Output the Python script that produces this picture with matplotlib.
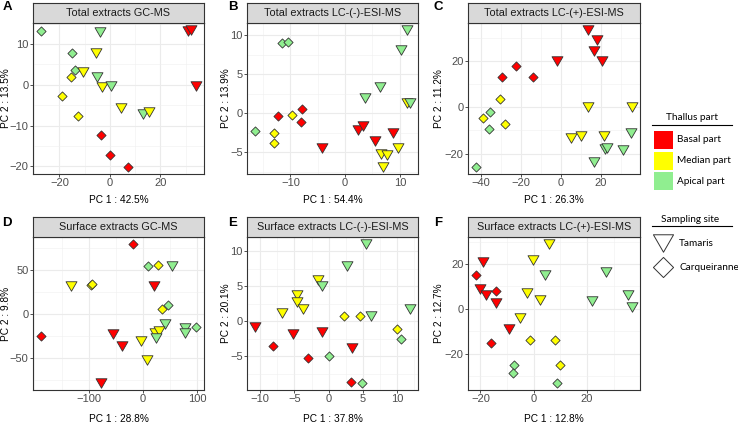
import matplotlib
matplotlib.use("Agg")
import matplotlib.pyplot as plt
from matplotlib.patches import Rectangle
from matplotlib.path import Path
from matplotlib.ticker import FixedLocator, AutoMinorLocator

plt.rcParams['font.family'] = ['Liberation Sans', 'DejaVu Sans']

W, H = 738, 426

# ---- data ----
# part: B = basal, M = median, A = apical ; site: T = Tamaris, C = Carqueiranne
a_x = [-27.4, -3.9, 30.9, 32.2, 34.2, -14.9, -5.5, -13.8, -10.5, -15.5, -5.0,
       -3.3, 0.4, -18.8, 4.3, -12.8, 13.2, 15.4, -3.6, 0.0, 7.0]
a_y = [13.1, 12.9, 13.1, 13.5, -0.2, 7.8, 7.8, 3.7, 3.1, 1.9, 2.0,
       -0.5, -0.2, -2.8, -5.8, -7.7, -7.2, -6.6, -12.2, -17.2, -20.2]
a_part = "AABBBAMAMMAMAMMMAMBBB"
a_site = "CTTTTCTCTCTTTCTCTTCCC"

b_x = [-11.5, -10.5, 11.3, 10.2, 6.4, 3.6, 11.4, 11.9, -7.8, -12.2, -9.7, -8.1,
       -16.5, -13.0, -12.9, 2.3, 3.3, -4.3, 5.5, 8.8, 9.6, 6.6, 7.7, 7.0]
b_y = [9.0, 9.1, 10.7, 8.1, 3.4, 2.0, 1.3, 1.3, 0.5, -0.3, -0.2, -1.1,
       -2.3, -2.5, -3.8, -2.2, -1.6, -4.4, -3.5, -2.5, -4.4, -5.2, -5.4, -6.9]
b_part = "AAAAAAMABBMBAMMBBBBBMMMM"
b_site = "CCTTTTTTCCCCCCCTTTTTTTTT"

c_x = [13.7, 18.3, 16.7, 20.7, -1.7, -22.5, -29.3, -13.7, -30.5, 13.7, 35.8, -35.5,
       -38.8, -28.0, -35.8, 5.0, 10.0, 21.5, 35.3, 22.0, 23.3, 31.2, 16.5, -42.5]
c_y = [33.3, 29.1, 24.3, 20.0, 19.9, 17.9, 12.8, 12.8, 3.7, 0.1, 0.1, -2.0,
       -4.5, -7.4, -9.5, -13.3, -12.3, -12.3, -10.9, -18.0, -17.6, -18.3, -23.7, -25.8]
c_part = "BBBBBBBBMMMAMMAMMMAAAAAA"
c_site = "TTTTTCCCCTTCCCCTTTTTTTTC"

d_x = [-18.3, 9.2, 27.5, 53.2, -132.7, -96.0, -94.8, 19.6, 45.9, 34.9, 39.8, 21.4,
       29.4, 23.2, 76.5, 76.5, 97.9, -188.4, -55.0, -37.9, -3.0, 8.0, -77.7]
d_y = [79.2, 54.0, 55.8, 54.7, 32.0, 33.0, 34.5, 32.0, 10.6, 6.0, -11.0, -21.5,
       -19.6, -27.2, -15.5, -21.1, -14.7, -24.5, -22.3, -35.8, -31.0, -51.7, -78.0]
d_part = "BAMAMMMBAMAMMAAAABBBMMB"
d_site = "CCCTTCCTCCTTTTTTCCTTTTT"

e_x = [5.4, 2.6, -1.5, -1.0, -4.6, -4.7, -3.7, -6.8, 2.2, 4.5, 6.2, 11.9,
       -10.8, -5.2, -1.0, 9.9, 10.5, -8.1, 3.4, -3.1, 0.1, 3.2, 4.9]
e_y = [11.0, 7.8, 5.8, 5.0, 3.7, 2.7, 1.7, 1.2, 0.7, 0.7, 0.8, 1.7,
       -0.8, -1.8, -1.5, -1.1, -2.5, -3.5, -3.8, -5.3, -4.9, -8.6, -8.8]
e_part = "AAMAMMMMMMAABBBMABBBABA"
e_site = "TTTTTTTTCCTTTTTCCCTCCCC"

f_x = [5.9, -0.4, -18.9, 4.4, 27.2, -21.7, -20.0, -14.2, -17.9, -14.2, -2.3, 2.4,
       21.8, 35.6, 37.0, -5.1, -9.1, -16.0, -1.3, 8.1, 10.0, -7.3, -7.6, 8.8]
f_y = [29.0, 21.9, 21.1, 14.9, 16.6, 15.1, 8.9, 8.1, 6.2, 2.6, 7.1, 4.1,
       3.3, 6.3, 0.6, -4.2, -9.2, -15.2, -14.0, -14.0, -25.3, -25.0, -28.8, -33.2]
f_part = "MMBAABBBBBMMAAAMBBMMMAAA"
f_site = "TTTTTCTCTTTTTTTTTCCCCCCC"

titles = ["Total extracts GC-MS", "Total extracts LC-(-)-ESI-MS", "Total extracts LC-(+)-ESI-MS",
          "Surface extracts GC-MS", "Surface extracts LC-(-)-ESI-MS", "Surface extracts LC-(+)-ESI-MS"]
letters = ["A", "B", "C", "D", "E", "F"]
xlabels = ["PC 1 : 42.5%", "PC 1 : 54.4%", "PC 1 : 26.3%",
           "PC 1 : 28.8%", "PC 1 : 37.8%", "PC 1 : 12.8%"]
ylabels = ["PC 2 : 13.5%", "PC 2 : 13.9%", "PC 2 : 11.2%",
           "PC 2 : 9.8%", "PC 2 : 20.1%", "PC 2 : 12.7%"]
xticks = [[-20, 0, 20], [-10, 0, 10], [-40, -20, 0, 20],
          [-100, 0, 100], [-10, -5, 0, 5, 10], [-20, 0, 20, 40]]
yticks = [[-20, -10, 0, 10], [-5, 0, 5, 10], [-20, 0, 20],
          [-50, 0, 50], [-5, 0, 5, 10], [-20, 0, 20]]

part_names = ["Basal part", "Median part", "Apical part"]
part_colors = {"B": "#FF0000", "M": "#FFFF00", "A": "#90EE90"}
site_names = ["Tamaris", "Carqueiranne"]

TRI = Path([(-1, 0.866), (1, 0.866), (0, -0.866), (-1, 0.866)], closed=True)
DIA = Path([(0, 1), (1, 0), (0, -1), (-1, 0), (0, 1)], closed=True)
site_marker = {"T": (TRI, 7.9), "C": (DIA, 6.6)}

panels = [(a_x, a_y, a_part, a_site), (b_x, b_y, b_part, b_site), (c_x, c_y, c_part, c_site),
          (d_x, d_y, d_part, d_site), (e_x, e_y, e_part, e_site), (f_x, f_y, f_part, f_site)]

# panel boxes in pixels: left, right ; rows: strip top, plot top, plot bottom
cols = [(33, 204), (247, 418), (468, 640)]
rows = [(3, 23, 174), (217, 237, 390)]
ylab_off = [27, 21, 29, 27, 21, 29]     # px left of the axes
xlab_off = [26, 26, 26, 29, 29, 29]     # px below the axes
letter_x = [7, 233, 438]
letter_y = [7, 223]

TICK_FS = 8.0
LAB_FS = 7.3
STRIP_FS = 7.8


def px_axes(fig, l, t, r, b):
    return fig.add_axes([l / W, 1 - b / H, (r - l) / W, (b - t) / H])


fig = plt.figure(figsize=(W / 100, H / 100), dpi=100)

for i, (xs, ys, parts, sites) in enumerate(panels):
    l, r = cols[i % 3]
    st, t, b = rows[i // 3]
    ax = px_axes(fig, l, t, r, b)
    for x, y, p, s in zip(xs, ys, parts, sites):
        mk, ms = site_marker[s]
        ax.plot([x], [y], linestyle="none", marker=mk, markersize=ms,
                markerfacecolor=part_colors[p], markeredgecolor="#333333",
                markeredgewidth=0.6, zorder=3)
    ax.margins(0.05)
    ax.xaxis.set_major_locator(FixedLocator(xticks[i]))
    ax.yaxis.set_major_locator(FixedLocator(yticks[i]))
    ax.xaxis.set_minor_locator(AutoMinorLocator(2))
    ax.yaxis.set_minor_locator(AutoMinorLocator(2))
    ax.grid(True, which="major", color="#EBEBEB", linewidth=0.8, zorder=0)
    ax.grid(True, which="minor", color="#F0F0F0", linewidth=0.4, zorder=0)
    ax.set_axisbelow(True)
    for sp in ax.spines.values():
        sp.set_color("#333333")
        sp.set_linewidth(0.8)
    ax.tick_params(which="major", length=2.2, width=0.6, color="#333333",
                   labelsize=TICK_FS, labelcolor="#4D4D4D", pad=1.0)
    ax.tick_params(which="minor", length=0)
    ax.set_xticklabels([str(v).replace("-", "\u2212") for v in xticks[i]])
    ax.set_yticklabels([str(v).replace("-", "\u2212") for v in yticks[i]])
    ax.set_xlabel(xlabels[i], fontsize=LAB_FS)
    ax.set_ylabel(ylabels[i], fontsize=LAB_FS)
    ax.xaxis.set_label_coords(0.5, -xlab_off[i] / (b - t))
    ax.yaxis.set_label_coords(-ylab_off[i] / (r - l), 0.5)
    ax.xaxis.label.set_va("center")
    ax.yaxis.label.set_va("center")

    sax = px_axes(fig, l, st, r, t)
    sax.set_xticks([])
    sax.set_yticks([])
    sax.set_facecolor("#D9D9D9")
    for sp in sax.spines.values():
        sp.set_color("#333333")
        sp.set_linewidth(0.8)
    sax.text(0.5, 0.5, titles[i], ha="center", va="center", fontsize=STRIP_FS,
             color="#1A1A1A", transform=sax.transAxes)

    fig.text(letter_x[i % 3] / W, 1 - letter_y[i // 3] / H, letters[i], fontsize=9.5,
             fontweight="bold", ha="center", va="center")

# legends drawn in a pixel overlay
lg = fig.add_axes([0, 0, 1, 1], facecolor="none")
lg.set_xlim(0, W)
lg.set_ylim(H, 0)
lg.axis("off")
lfont = ["Lato", "DejaVu Sans"]
LFS = 7.2

lg.text(692, 117, "Thallus part", ha="center", va="center", fontsize=LFS, family=lfont)
lg.plot([652, 732], [125, 125], color="black", linewidth=0.8)
for k, (name, key) in enumerate(zip(part_names, "BMA")):
    top = 131 + k * 20.5
    lg.add_patch(Rectangle((654, top), 19, 18, facecolor=part_colors[key], edgecolor="none"))
    lg.text(677, top + 9, name, ha="left", va="center", fontsize=LFS, family=lfont)

lg.text(690, 220, "Sampling site", ha="center", va="center", fontsize=LFS, family=lfont)
lg.plot([652, 732], [226, 226], color="black", linewidth=0.8)
for k, (name, key) in enumerate(zip(site_names, "TC")):
    cy = 243 + k * 24
    mk, _ = site_marker[key]
    lg.plot([663], [cy], linestyle="none", marker=mk, markersize=14.5,
            markerfacecolor="white", markeredgecolor="#333333", markeredgewidth=0.7)
    lg.text(679, cy, name, ha="left", va="center", fontsize=LFS, family=lfont)

fig.savefig("out.png", dpi=100)
